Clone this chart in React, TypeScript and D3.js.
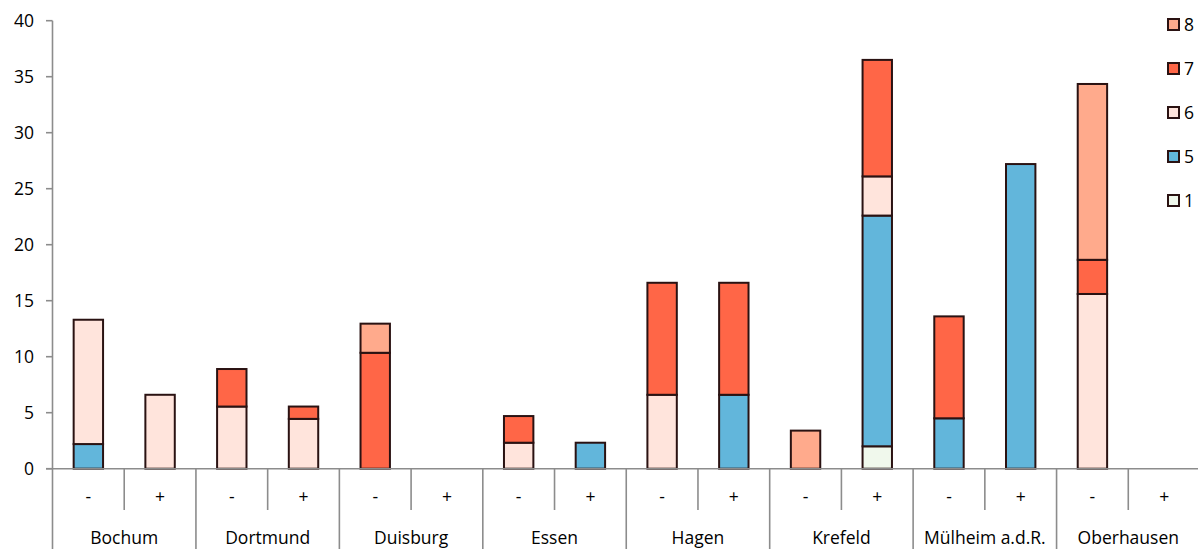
import React from "react";
import * as d3 from "d3";

const cities = ["Bochum", "Dortmund", "Duisburg", "Essen", "Hagen", "Krefeld", "Mülheim a.d.R.", "Oberhausen"];
const subLabels = ["-", "+"];
const seriesKeys = ["1", "5", "6", "7", "8"];
const yTicks = [0, 5, 10, 15, 20, 25, 30, 35, 40];

const s1 = [0, 0, 0, 0, 0, 0, 0, 0, 0, 0, 0, 2.0, 0, 0, 0, 0];
const s5 = [2.2, 0, 0, 0, 0, 0, 0, 2.32, 0, 6.6, 0, 20.6, 4.5, 27.2, 0, 0];
const s6 = [11.1, 6.6, 5.55, 4.45, 0, 0, 2.32, 0, 6.6, 0, 0, 3.5, 0, 0, 15.6, 0];
const s7 = [0, 0, 3.35, 1.1, 10.35, 0, 2.38, 0, 10.0, 10.0, 0, 10.4, 9.1, 0, 3.05, 0];
const s8 = [0, 0, 0, 0, 2.6, 0, 0, 0, 0, 0, 3.4, 0, 0, 0, 15.7, 0];

const colors: Record<string, string> = {
  "1": "#F0F8EC",
  "5": "#62B6DB",
  "6": "#FFE4DC",
  "7": "#FF6647",
  "8": "#FFAA8C",
};

const W = 1198;
const H = 549;
const FONT = "'Open Sans', sans-serif";
const FS = 17.5;

export default function App() {
  const rows = cities.flatMap((c, ci) =>
    subLabels.map((s, si) => {
      const i = ci * 2 + si;
      return { key: `${ci}-${si}`, city: c, sub: s, "1": s1[i], "5": s5[i], "6": s6[i], "7": s7[i], "8": s8[i] } as any;
    })
  );
  const x = d3.scaleBand<string>().domain(rows.map((r) => r.key)).range([52.5, 1200]).paddingInner(0).paddingOuter(0);
  const y = d3.scaleLinear().domain([0, 40]).range([468.7, 20.7]);
  const stack = d3.stack<any>().keys(seriesKeys)(rows);
  const bw = x.bandwidth() * 0.41;
  const axisColor = "#8c8c8c";
  const groupW = x.bandwidth() * 2;

  return (
    <div style={{ position: "fixed", left: 0, top: 0 }}>
      <svg width={W} height={H} style={{ display: "block", background: "#fff" }}>
        {stack.map((layer) =>
          layer.map((d, i) => {
            const h = y(d[0]) - y(d[1]);
            if (h <= 0.01) return null;
            const cx = (x(rows[i].key) as number) + x.bandwidth() / 2;
            return (
              <rect
                key={layer.key + i}
                x={cx - bw / 2}
                y={y(d[1])}
                width={bw}
                height={h}
                fill={colors[layer.key]}
                stroke="#2a1212"
                strokeWidth={2}
              />
            );
          })
        )}
        <line x1={52.5} x2={52.5} y1={y(40)} y2={H} stroke={axisColor} strokeWidth={1.6} />
        {yTicks.map((t) => (
          <g key={t}>
            <line x1={46} x2={52.5} y1={y(t)} y2={y(t)} stroke={axisColor} strokeWidth={1.6} />
            <text x={34} y={y(t)} dy="0.35em" textAnchor="end" fontFamily={FONT} fontSize={FS} fill="#000">
              {t}
            </text>
          </g>
        ))}
        <line x1={46} x2={1200} y1={y(0)} y2={y(0)} stroke={axisColor} strokeWidth={1.6} />
        {rows.map((r, i) => {
          const x0 = x(r.key) as number;
          const cx = x0 + x.bandwidth() / 2;
          return (
            <g key={r.key}>
              {i % 2 === 1 && (
                <line x1={x0} x2={x0} y1={y(0)} y2={510} stroke={axisColor} strokeWidth={1.6} />
              )}
              {i % 2 === 0 && i > 0 && (
                <line x1={x0} x2={x0} y1={y(0)} y2={H} stroke={axisColor} strokeWidth={1.6} />
              )}
              <text x={cx} y={497} dy="0.35em" textAnchor="middle" fontFamily={FONT} fontSize={FS} fill="#000">
                {r.sub}
              </text>
            </g>
          );
        })}
        {cities.map((c, ci) => {
          const x0 = x(rows[ci * 2].key) as number;
          return (
            <text key={c} x={x0 + groupW / 2} y={538} dy="0.35em" textAnchor="middle" fontFamily={FONT} fontSize={FS} fill="#000">
              {c}
            </text>
          );
        })}
        {[...seriesKeys].reverse().map((k, i) => {
          const ly = 24.5 + i * 44;
          return (
            <g key={k}>
              <rect x={1168} y={ly - 5.5} width={11} height={11} fill={colors[k]} stroke="#2a1212" strokeWidth={2} />
              <text x={1184} y={ly} dy="0.35em" fontFamily={FONT} fontSize={FS} fill="#000">
                {k}
              </text>
            </g>
          );
        })}
      </svg>
    </div>
  );
}
